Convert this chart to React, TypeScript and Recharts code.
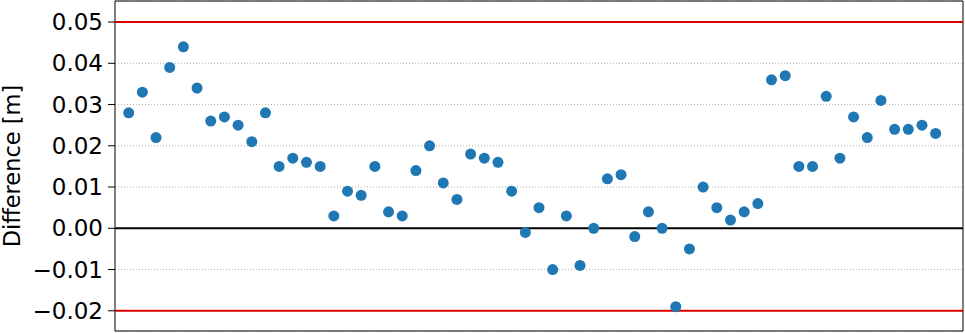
import {
  CartesianGrid,
  ReferenceArea,
  ReferenceLine,
  Scatter,
  ScatterChart,
  XAxis,
  YAxis,
  ZAxis,
} from "recharts";

const differences = [
  0.028, 0.033, 0.022, 0.039, 0.044, 0.034, 0.026, 0.027, 0.025, 0.021,
  0.028, 0.015, 0.017, 0.016, 0.015, 0.003, 0.009, 0.008, 0.015, 0.004,
  0.003, 0.014, 0.02, 0.011, 0.007, 0.018, 0.017, 0.016, 0.009, -0.001,
  0.005, -0.01, 0.003, -0.009, 0.0, 0.012, 0.013, -0.002, 0.004, 0.0,
  -0.019, -0.005, 0.01, 0.005, 0.002, 0.004, 0.006, 0.036, 0.037, 0.015,
  0.015, 0.032, 0.017, 0.027, 0.022, 0.031, 0.024, 0.024, 0.025, 0.023,
];
const indices = differences.map((_, i) => i + 1);
const yTicks = [-0.02, -0.01, 0.0, 0.01, 0.02, 0.03, 0.04, 0.05];
const limits = [0.05, -0.02];

const xDomain = [0, 62];
const yDomain = [-0.0249, 0.0551];

const FONT = "DejaVu Sans";

const fmt = (v: number) => {
  const s = Math.abs(v).toFixed(2);
  return v < -1e-9 ? `\u2212${s}` : s;
};

export default function App() {
  const data = indices.map((x, i) => ({ x, y: differences[i] }));

  return (
    <div style={{ position: "absolute", left: 0, top: 0, background: "#fff" }}>
      <ScatterChart
        width={965}
        height={333}
        margin={{ top: 1, right: 2, bottom: 2, left: 0 }}
        style={{ fontFamily: FONT }}
      >
        <CartesianGrid
          vertical={false}
          stroke="#b0b0b0"
          strokeDasharray="1 2"
          strokeWidth={1}
        />
        <XAxis type="number" dataKey="x" domain={xDomain} hide />
        <YAxis
          type="number"
          dataKey="y"
          domain={yDomain}
          ticks={yTicks}
          allowDataOverflow
          width={115}
          tickFormatter={fmt}
          tickSize={7}
          tickMargin={5}
          axisLine={false}
          tickLine={{ stroke: "#000", strokeWidth: 1 }}
          tick={{ fill: "#000", fontSize: 23, fontFamily: FONT }}
          label={{
            value: "Difference [m]",
            angle: -90,
            position: "insideLeft",
            offset: 0,
            dx: 12,
            fill: "#000",
            fontSize: 22.5,
            fontFamily: FONT,
            style: { textAnchor: "middle" },
          }}
        />
        <ZAxis range={[95, 95]} />
        {limits.map((v) => (
          <ReferenceLine key={v} y={v} stroke="#dd0000" strokeWidth={2} />
        ))}
        <ReferenceLine y={0} stroke="#000" strokeWidth={2} />
        <Scatter data={data} fill="#1f77b4" isAnimationActive={false} />
        <ReferenceArea
          x1={xDomain[0]}
          x2={xDomain[1]}
          y1={yDomain[0]}
          y2={yDomain[1]}
          fill="none"
          stroke="#000"
          strokeWidth={1}
          ifOverflow="extendDomain"
        />
      </ScatterChart>
    </div>
  );
}
